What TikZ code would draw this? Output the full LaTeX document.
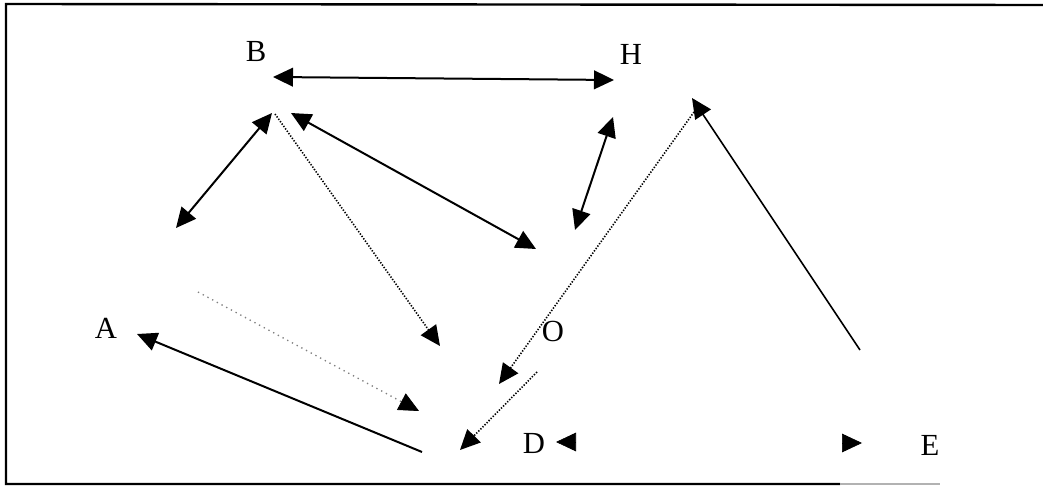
\documentclass[tikz,border=0pt]{standalone}
\usepackage{fontspec}
\setmainfont{Liberation Serif}
\usetikzlibrary{arrows.meta}
\begin{document}
\begin{tikzpicture}[x=0.75pt,y=-0.75pt,
  lbl/.style={font=\fontsize{23}{26}\selectfont, inner sep=0pt},
  tip/.style={-{Triangle[length=15pt,width=14pt]}},
  dtip/.style={{Triangle[length=15pt,width=14pt]}-{Triangle[length=15pt,width=14pt]}},
  solidln/.style={line width=1.5pt},
  thinln/.style={line width=1.2pt},
  dotln/.style={line width=1.2pt, dash pattern=on 1pt off 1.2pt},
  faintln/.style={line width=1pt, gray, dash pattern=on 1pt off 3pt},
  frameln/.style={line width=1.8pt}]
\useasboundingbox (0,0) rectangle (1043,488);
% frame
\coordinate (f1) at (6,484);
\coordinate (f2) at (6,4);
\coordinate (f3) at (1043,5);
\coordinate (f4) at (840,484);
\coordinate (f5) at (940,484);
\draw[frameln] (f4) -- (f1) -- (f2) -- (f3);
\draw[line width=1.2pt, gray!60] (f4) -- (f5);
% labels
\node[lbl] (B) at (256,52) {B};
\node[lbl] (H) at (631,54) {H};
\node[lbl] (A) at (106,328) {A};
\node[lbl] (O) at (553,331) {O};
\node[lbl] (D) at (534,443) {D};
\node[lbl] (E) at (930,445) {E};
% endpoints
\coordinate (bh1) at (273,77);
\coordinate (bh2) at (614,80);
\coordinate (ba1) at (272,113);
\coordinate (ba2) at (176,228);
\coordinate (bd1) at (275,114);
\coordinate (bd2) at (440,346);
\coordinate (bo1) at (291,113);
\coordinate (bo2) at (536,249);
\coordinate (hh1) at (613,117);
\coordinate (hh2) at (575,230);
\coordinate (ed1) at (860,350);
\coordinate (ed2) at (692,98);
\coordinate (od1) at (694,112);
\coordinate (od2) at (499,384);
\coordinate (dd1) at (537,372);
\coordinate (dd2) at (460,450);
\coordinate (aa1) at (198,292);
\coordinate (aa3) at (402,402);
\coordinate (aa2) at (419,411);
\coordinate (ad1) at (422,452);
\coordinate (ad2) at (137,334);
\coordinate (dh1) at (575,442);
\coordinate (dh2) at (556,442);
\coordinate (eh1) at (843,443);
\coordinate (eh2) at (862,443);
% connectors
\draw[solidln, dtip] (bh1) -- (bh2);
\draw[solidln, dtip] (ba1) -- (ba2);
\draw[dotln, tip] (bd1) -- (bd2);
\draw[solidln, dtip] (bo1) -- (bo2);
\draw[solidln, dtip] (hh1) -- (hh2);
\draw[thinln, tip] (ed1) -- (ed2);
\draw[dotln, tip] (od1) -- (od2);
\draw[dotln, tip] (dd1) -- (dd2);
\draw[faintln] (aa1) -- (aa3);
\draw[line width=0.5pt, tip] (aa3) -- (aa2);
\draw[solidln, tip] (ad1) -- (ad2);
\draw[line width=0.5pt, tip] (dh1) -- (dh2);
\draw[line width=0.5pt, tip] (eh1) -- (eh2);
\end{tikzpicture}
\end{document}
